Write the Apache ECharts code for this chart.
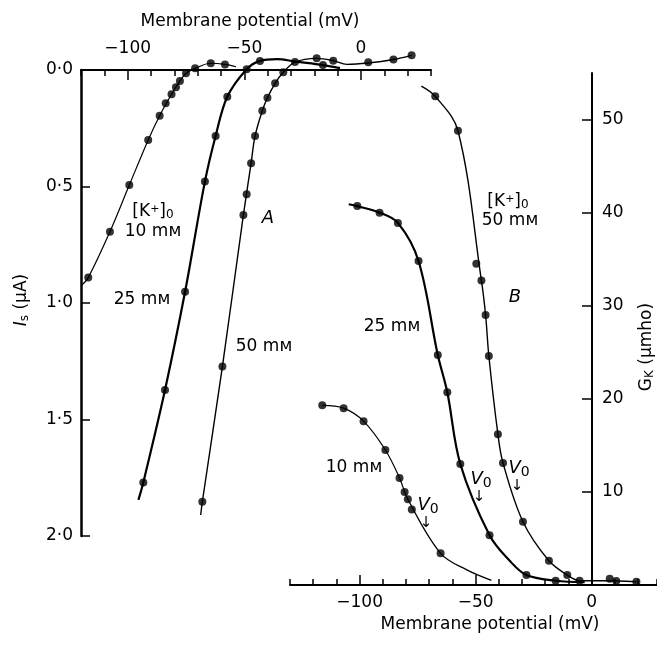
<!DOCTYPE html>
<html>
<head>
<meta charset="utf-8">
<script src="https://cdn.jsdelivr.net/npm/echarts@6/dist/echarts.min.js"></script>
<style>
  html, body { margin: 0; padding: 0; background: #fff; }
  #chart { width: 657px; height: 645px; }
</style>
</head>
<body>
<div id="chart"></div>
<script>
// ---- data ----
// A: steady current Is (uA) against membrane potential (mV), top axis
const a10Dots = [[-116.9, 0.891], [-107.6, 0.694], [-99.3, 0.494], [-91.2, 0.300], [-86.3, 0.196], [-83.7, 0.143],
  [-81.2, 0.104], [-79.3, 0.074], [-77.6, 0.047], [-75.0, 0.014], [-71.1, -0.007], [-64.4, -0.029], [-58.3, -0.024]]
const a10Curve = [[-119.7, 0.923], [-116.9, 0.891], [-107.6, 0.694], [-99.3, 0.494], [-91.2, 0.300], [-86.3, 0.196],
  [-81.2, 0.104], [-77.6, 0.047], [-75.0, 0.014], [-71.1, -0.007], [-64.4, -0.029], [-58.3, -0.024], [-53.6, -0.014]]

const a25Dots = [[-93.3, 1.77], [-84.0, 1.373], [-75.4, 0.952], [-66.9, 0.479], [-62.3, 0.283], [-57.3, 0.115],
  [-49.0, -0.003], [-43.3, -0.039], [-16.3, -0.021]]
const a25Curve = [[-95.4, 1.845], [-93.3, 1.77], [-84.0, 1.373], [-75.4, 0.952], [-66.9, 0.479], [-62.3, 0.283],
  [-57.3, 0.115], [-49.0, -0.003], [-43.3, -0.039], [-36.0, -0.047], [-28.0, -0.036], [-16.3, -0.021], [-9.0, -0.008]]

const a50Dots = [[-68.0, 1.853], [-59.4, 1.273], [-50.4, 0.622], [-49.0, 0.533], [-47.1, 0.400], [-45.4, 0.283],
  [-42.3, 0.175], [-40.1, 0.119], [-36.8, 0.057], [-33.3, 0.010], [-28.3, -0.034], [-19.0, -0.050],
  [-11.9, -0.040], [3.1, -0.033], [13.9, -0.045], [21.7, -0.063]]
const a50Curve = [[-68.7, 1.91], [-68.0, 1.853], [-59.4, 1.273], [-50.4, 0.622], [-47.1, 0.400], [-45.4, 0.283],
  [-42.3, 0.175], [-40.1, 0.119], [-36.8, 0.057], [-33.3, 0.010], [-28.3, -0.034], [-19.0, -0.050],
  [-11.9, -0.040], [-6.0, -0.024], [3.1, -0.030], [13.9, -0.045], [21.7, -0.063]]

// B: GK (umho) against membrane potential (mV), bottom axis
const b10Dots = [[-116.1, 19.3], [-106.9, 19.0], [-98.3, 17.6], [-88.9, 14.5], [-82.8, 11.5], [-80.6, 10.0],
  [-79.2, 9.2], [-77.5, 8.1], [-65.1, 3.4]]
const b10Curve = [[-116.1, 19.3], [-106.9, 19.0], [-98.3, 17.6], [-88.9, 14.5], [-82.8, 11.5], [-79.2, 9.2],
  [-65.1, 3.4], [-54.0, 1.65], [-43.2, 0.5]]

const b25Dots = [[-101.0, 40.7], [-91.4, 40.0], [-83.5, 38.9], [-74.6, 34.8], [-66.3, 24.7], [-62.2, 20.7],
  [-56.6, 13.0], [-44.0, 5.35], [-28.1, 1.07], [-15.5, 0.46]]
const b25Curve = [[-104.7, 40.9], [-101.0, 40.7], [-91.4, 40.0], [-83.5, 38.9], [-74.6, 34.8], [-66.3, 24.7],
  [-62.2, 20.7], [-56.6, 13.0], [-44.0, 5.35], [-35.3, 2.6], [-28.1, 1.07], [-15.5, 0.46], [-3.0, 0.3]]

const b50Dots = [[-67.4, 52.5], [-57.6, 48.8], [-49.7, 34.5], [-47.5, 32.7], [-45.7, 29.0], [-44.3, 24.6],
  [-40.4, 16.2], [-38.2, 13.1], [-29.6, 6.8], [-18.4, 2.6], [-10.5, 1.07], [-5.2, 0.46], [7.8, 0.68],
  [10.6, 0.43], [19.3, 0.35]]
const b50Curve = [[-73.4, 53.6], [-67.4, 52.5], [-57.6, 48.8], [-47.5, 32.7], [-45.7, 29.0], [-44.3, 24.6],
  [-40.4, 16.2], [-38.2, 13.1], [-29.6, 6.8], [-18.4, 2.6], [-10.5, 1.07], [-5.2, 0.46], [5.0, 0.45],
  [19.3, 0.35]]

// tick labels
const mvLabels = [-100, -50, 0]
const isTicks = [0, 0.5, 1.0, 1.5, 2.0]
const gkTicks = [10, 20, 30, 40, 50]

const FONT = '"DejaVu Sans", "Liberation Sans", sans-serif'
const INK = '#000'

let chart = echarts.init(document.getElementById('chart'), null, { renderer: 'canvas' })

// 负号用 − , 小数点用 ·
const fmtMv = (v) => (v < 0 ? '\u2212' + Math.abs(v) : String(v))
const fmtIs = (v) => v.toFixed(1).replace('.', '\u00b7')

const lineSeries = (data, xi, w) => ({
  type: 'line', xAxisIndex: xi, yAxisIndex: xi, data: data, clip: false,
  smooth: 0.35, showSymbol: false, symbol: 'none',
  lineStyle: { color: INK, width: w }, silent: true, z: 3
})
const dotSeries = (data, xi) => ({
  type: 'scatter', xAxisIndex: xi, yAxisIndex: xi, data: data, clip: false,
  symbol: 'circle', symbolSize: 8, itemStyle: { color: INK }, silent: true, z: 4
})

const labelStyle = { color: INK, fontFamily: FONT, fontSize: 17 }

let option = {
  animation: false,
  backgroundColor: '#fff',
  grid: [
    { left: 81, top: 70, width: 350, height: 466 },
    { left: 290, top: 73, width: 366.6, height: 512 }
  ],
  xAxis: [
    { // A, top
      gridIndex: 0, type: 'value', position: 'top', min: -120, max: 30, interval: 10,
      axisLine: { onZero: false, lineStyle: { color: INK, width: 2 } },
      axisTick: { inside: true, length: 6, lineStyle: { color: INK, width: 1.5 } },
      axisLabel: { show: false },
      splitLine: { show: false }
    },
    { // B, bottom
      gridIndex: 1, type: 'value', position: 'bottom', min: -130, max: 28, interval: 10,
      axisLine: { onZero: false, lineStyle: { color: INK, width: 2 } },
      axisTick: { inside: true, length: 6, lineStyle: { color: INK, width: 1.5 } },
      axisLabel: { show: false },
      splitLine: { show: false }
    },
    { // A labelled ticks
      gridIndex: 0, type: 'value', position: 'top', min: -120, max: 30,
      axisLine: { show: false, onZero: false },
      axisTick: { inside: true, length: 10, customValues: mvLabels, lineStyle: { color: INK, width: 1.5 } },
      axisLabel: { customValues: mvLabels, formatter: fmtMv, margin: 13, ...labelStyle },
      splitLine: { show: false }
    },
    { // B labelled ticks
      gridIndex: 1, type: 'value', position: 'bottom', min: -130, max: 28,
      axisLine: { show: false, onZero: false },
      axisTick: { inside: true, length: 10, customValues: mvLabels, lineStyle: { color: INK, width: 1.5 } },
      axisLabel: { customValues: mvLabels, formatter: fmtMv, margin: 9, ...labelStyle },
      splitLine: { show: false }
    }
  ],
  yAxis: [
    { // A, Is
      gridIndex: 0, type: 'value', position: 'left', inverse: true, min: 0, max: 2, interval: 0.5,
      axisLine: { onZero: false, lineStyle: { color: INK, width: 2.5 } },
      axisTick: { inside: true, length: 9, customValues: isTicks, lineStyle: { color: INK, width: 1.5 } },
      axisLabel: { customValues: isTicks, formatter: fmtIs, margin: 8, ...labelStyle },
      splitLine: { show: false }
    },
    { // B, GK — pulled in from the right edge onto 0 mV
      gridIndex: 1, type: 'value', position: 'right', offset: -64.6, min: 0, max: 55,
      axisLine: { onZero: false, lineStyle: { color: INK, width: 2 } },
      axisTick: { inside: true, length: 10, customValues: gkTicks, lineStyle: { color: INK, width: 1.5 } },
      axisLabel: { customValues: gkTicks, margin: 10, ...labelStyle },
      splitLine: { show: false }
    }
  ],
  series: [
    lineSeries(a10Curve, 0, 1.2), dotSeries(a10Dots, 0),
    lineSeries(a25Curve, 0, 2.2), dotSeries(a25Dots, 0),
    lineSeries(a50Curve, 0, 1.4), dotSeries(a50Dots, 0),
    lineSeries(b10Curve, 1, 1.2), dotSeries(b10Dots, 1),
    lineSeries(b25Curve, 1, 2.2), dotSeries(b25Dots, 1),
    lineSeries(b50Curve, 1, 1.4), dotSeries(b50Dots, 1)
  ]
}

// 文字标注
const txt = (x, y, text, extra) => ({
  type: 'text', x: x, y: y, z: 10, silent: true,
  style: Object.assign({
    text: text, fill: INK, font: '17px ' + FONT, align: 'center', verticalAlign: 'middle'
  }, extra || {})
})
const richK = {
  s: { fontSize: 11, fontFamily: FONT, color: INK, verticalAlign: 'top', lineHeight: 17 },
  b: { fontSize: 12, fontFamily: FONT, color: INK, verticalAlign: 'bottom', lineHeight: 17, padding: [7, 0, 0, 0] },
  n: { fontSize: 17, fontFamily: FONT, color: INK, lineHeight: 17 }
}
const vNought = (x, y) => [
  txt(x, y, '{v|V}{o|0}', {
    rich: {
      v: { fontSize: 18, fontStyle: 'italic', fontFamily: FONT, color: INK },
      o: { fontSize: 14, fontFamily: FONT, color: INK, padding: [9, 0, 0, 0] }
    }
  }),
  txt(x - 2, y + 18, '\u2193', { font: '15px ' + FONT })
]

option.graphic = [
  txt(250, 22, 'Membrane potential (mV)'),
  txt(490, 625, 'Membrane potential (mV)'),
  txt(22, 300, '{i|I}{s|s} (\u03bcA)', {
    rich: {
      i: { fontSize: 17, fontStyle: 'italic', fontFamily: FONT, color: INK },
      s: { fontSize: 12, fontFamily: FONT, color: INK, padding: [6, 0, 0, 0] }
    }
  }),
  txt(647, 347, 'G{s|K} (\u03bcmho)', {
    rich: { s: { fontSize: 12, fontFamily: FONT, color: INK, padding: [6, 0, 0, 0] } }
  }),
  txt(153, 212, '{n|[K}{s|+}{n|]}{b|0}', { rich: richK }),
  txt(153, 232, '10 m\u1d0d'),
  txt(142, 300, '25 m\u1d0d'),
  txt(268, 218, 'A', { font: 'italic 18px ' + FONT }),
  txt(264, 347, '50 m\u1d0d'),
  txt(508, 202, '{n|[K}{s|+}{n|]}{b|0}', { rich: richK }),
  txt(510, 221, '50 m\u1d0d'),
  txt(515, 297, 'B', { font: 'italic 18px ' + FONT }),
  txt(392, 327, '25 m\u1d0d'),
  txt(354, 468, '10 m\u1d0d'),
  ...vNought(428, 505),
  ...vNought(481, 479),
  ...vNought(519, 468)
]
// rotate the two vertical axis names
option.graphic[2].rotation = Math.PI / 2
option.graphic[3].rotation = Math.PI / 2

chart.setOption(option)
</script>
</body>
</html>
